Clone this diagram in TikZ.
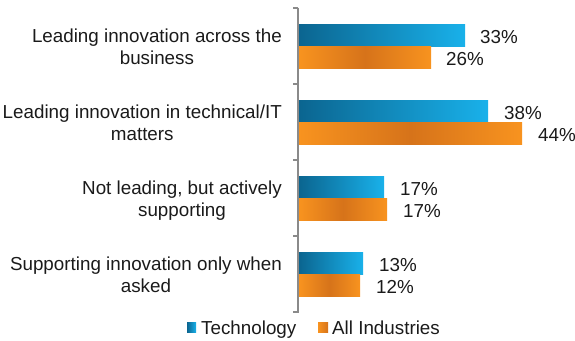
\documentclass[tikz,border=0pt]{standalone}
\usepackage{fontspec}
\setmainfont{Liberation Sans}
\definecolor{techL}{HTML}{0B6590}
\definecolor{techR}{HTML}{19B1EA}
\definecolor{orgL}{HTML}{F8931F}
\definecolor{orgD}{HTML}{D6731A}
\definecolor{axisgray}{HTML}{8A8A8A}
\definecolor{txt}{HTML}{1A1A1A}
\begin{document}
\begin{tikzpicture}[x=1pt,y=-1pt,
  techbar/.style={left color=techL,right color=techR,draw=none},
  orgbar/.style={left color=orgL,right color=orgL,middle color=orgD,draw=none},
  cat/.style={anchor=north east,align=center,inner sep=0pt,font=\fontsize{18.8}{22}\selectfont,text=txt},
  val/.style={anchor=base west,inner sep=0pt,font=\fontsize{18.8}{22}\selectfont,text=txt},
  axisline/.style={draw=axisgray,line width=1.5pt}]
\useasboundingbox (0,0) rectangle (575,340);
% axis
\draw[axisline] (298,7.5) -- (298,313);
\foreach \y in {8,84,160,236,312} \draw[axisline] (293,\y) -- (298,\y);
% bars
\foreach \i/\t/\o in {0/465/431,1/488/522,2/384/387,3/363/360} {
  \pgfmathsetmacro\c{46+76*\i}
  \path[techbar] (299,\c-22) rectangle (\t,\c);
  \path[orgbar] (299,\c) rectangle (\o,\c+22);
}
% value labels
\node[val] (v1t) at (480,43) {33\%};
\node[val] (v1o) at (446,65) {26\%};
\node[val] (v2t) at (504,119) {38\%};
\node[val] (v2o) at (538,141) {44\%};
\node[val] (v3t) at (400,195) {17\%};
\node[val] (v3o) at (403,217) {17\%};
\node[val] (v4t) at (379,271) {13\%};
\node[val] (v4o) at (376,293) {12\%};
% category labels
\node[cat] (c1) at (282,28.5) {Leading innovation across the\\business};
\node[cat] (c2) at (282,104.5) {Leading innovation in technical/IT\\matters};
\node[cat] (c3) at (282,180.5) {Not leading, but actively\\supporting};
\node[cat] (c4) at (282,256.5) {Supporting innovation only when\\asked};
% legend
\path[techbar] (187,322) rectangle (196,332);
\node[val] (lt) at (201,334) {Technology};
\path[left color=orgL,right color=orgD] (318,322) rectangle (328,332);
\node[val] (lo) at (332,334) {All Industries};
\end{tikzpicture}
\end{document}
